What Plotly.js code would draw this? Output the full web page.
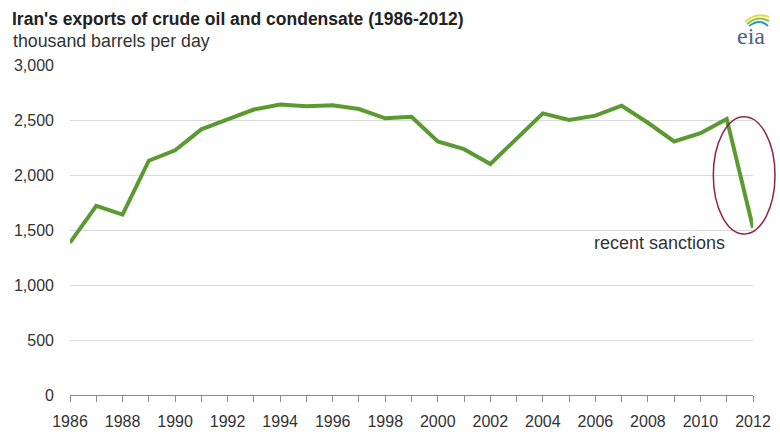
<!DOCTYPE html>
<html>
<head>
<meta charset="utf-8">
<script src="https://cdn.plot.ly/plotly-3.0.1.min.js"></script>
<style>html,body{margin:0;padding:0;background:#fff;}#chart{width:780px;height:438px;}</style>
</head>
<body>
<div id="chart"></div>
<script>
// Data
var years = [1986,1987,1988,1989,1990,1991,1992,1993,1994,1995,1996,1997,1998,1999,2000,2001,2002,2003,2004,2005,2006,2007,2008,2009,2010,2011,2012];
var exportsKbd = [1385,1720,1640,2130,2225,2415,2505,2595,2640,2625,2635,2600,2515,2530,2305,2235,2100,2325,2560,2500,2540,2630,2475,2305,2380,2510,1520];
var yTickVals = [0,500,1000,1500,2000,2500,3000];
var yTickText = ["0","500","1,000","1,500","2,000","2,500","3,000"];
var xTickVals = years;
var xTickText = years.map(function(y){ return (y % 2 === 0) ? String(y) : ""; });

var W = 780, H = 438;
var M = {l:70, r:27, t:65, b:43};
var pw = W - M.l - M.r, ph = H - M.t - M.b;
function px(x){ return (x - M.l) / pw; }
function py(y){ return (H - M.b - y) / ph; }

var FONT = "Liberation Sans, Arial, sans-serif";

var trace = {
  x: years, y: exportsKbd, type: "scatter", mode: "lines",
  line: {color: "#5b9a31", width: 4}, hoverinfo: "x+y"
};

function arc(x0,y0,cx,cy,x1,y1,color,w){
  return {type:"path", xref:"paper", yref:"paper",
    path: "M "+px(x0)+","+py(y0)+" Q "+px(cx)+","+py(cy)+" "+px(x1)+","+py(y1),
    line:{color:color, width:w}};
}

var layout = {
  width: W, height: H,
  margin: M,
  paper_bgcolor: "#ffffff", plot_bgcolor: "#ffffff",
  showlegend: false,
  font: {family: FONT, size: 16, color: "#333333"},
  title: {text: "<b>Iran's exports of crude oil and condensate (1986-2012)</b>",
    x: 12/W, xanchor: "left", xref: "container",
    y: 1 - 19/H, yanchor: "middle", yref: "container",
    font: {family: FONT, size: 17.5, color: "#222222"}},
  xaxis: {
    range: [1986, 2012], tickmode: "array", tickvals: xTickVals, ticktext: xTickText,
    showgrid: false, zeroline: false, showline: true, linecolor: "#8a8a8a", linewidth: 1,
    ticks: "outside", ticklen: 6, tickcolor: "#8a8a8a", tickwidth: 1, ticklabelstandoff: 6,
    tickfont: {family: FONT, size: 16, color: "#333333"}, fixedrange: true
  },
  yaxis: {
    range: [0, 3000], tickmode: "array", tickvals: yTickVals, ticktext: yTickText,
    showgrid: true, gridcolor: "#d9d9d9", gridwidth: 1, zeroline: false, showline: false,
    ticks: "", ticklabelstandoff: 15,
    tickfont: {family: FONT, size: 16, color: "#333333"}, fixedrange: true
  },
  annotations: [
    {text: "thousand barrels per day", xref: "paper", yref: "paper",
     x: px(11), y: py(41), xanchor: "left", yanchor: "middle", showarrow: false,
     font: {family: FONT, size: 17.8, color: "#333333"}},
    {text: "recent sanctions", xref: "paper", yref: "paper",
     x: px(659), y: py(243), xanchor: "center", yanchor: "middle", showarrow: false,
     font: {family: FONT, size: 18, color: "#333333"}},
    {text: "eia", xref: "paper", yref: "paper",
     x: px(751), y: py(36), xanchor: "center", yanchor: "middle", showarrow: false,
     font: {family: "Liberation Serif, DejaVu Serif, serif", size: 24, color: "#4a6283"}}
  ],
  shapes: [
    {type: "circle", xref: "paper", yref: "paper",
     x0: px(713.3), x1: px(775), y0: py(234), y1: py(116.7),
     line: {color: "#8c2646", width: 1.5}},
    arc(745,22,756,12,769,17,"#e8d84a",2),
    arc(747,24,758,15,769,21,"#8cc63f",2),
    arc(749,26,760,18,768,26,"#2a9ab0",2)
  ]
};

Plotly.newPlot("chart", [trace], layout, {displayModeBar: false, staticPlot: true});
</script>
</body>
</html>
